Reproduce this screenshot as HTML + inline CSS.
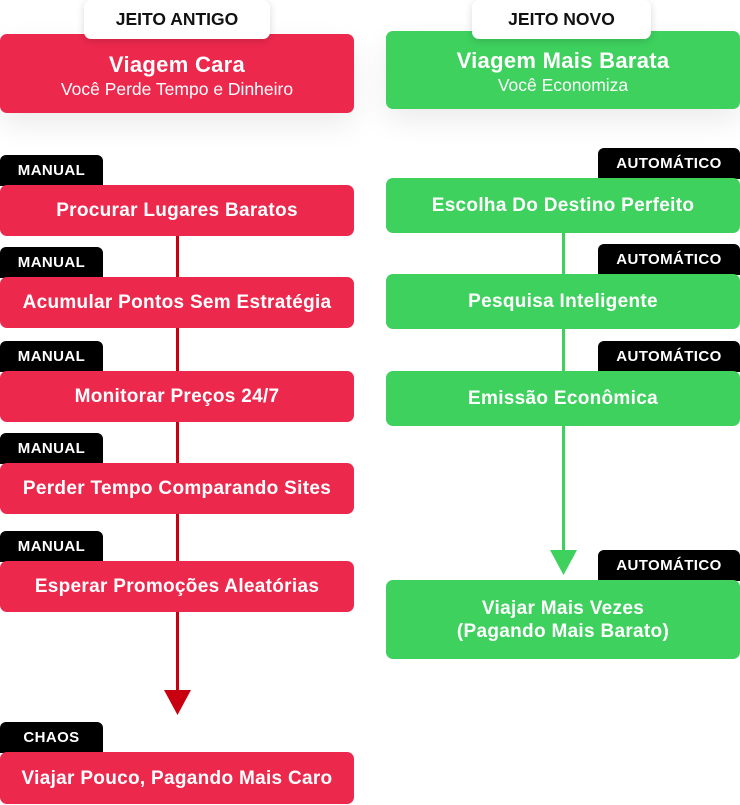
<!DOCTYPE html>
<html><head><meta charset="utf-8"><style>
*{margin:0;padding:0;box-sizing:border-box}
body{width:740px;height:805px;background:#fff;position:relative;overflow:hidden;font-family:"Liberation Sans",Arial,sans-serif}
.b{position:absolute;border-radius:7px;color:#fff;font-weight:bold;font-size:19px;display:flex;flex-direction:column;align-items:center;justify-content:center;text-align:center;letter-spacing:0.3px;line-height:23px;white-space:nowrap}
.r{background:#EC284D;left:0;width:354px}
.g{background:#3ED15E;left:386px;width:354px}
.t{position:absolute;background:#000;color:#fff;font-weight:bold;font-size:15px;letter-spacing:0.4px;height:31px;line-height:31px;border-radius:6px 6px 0 0;text-align:center}
.m{left:0;width:103px}
.a{left:598px;width:142px}
.h{position:absolute;top:0;height:39px;background:#fff;border-radius:7px;box-shadow:0 2px 8px rgba(0,0,0,.15);font-weight:bold;font-size:17.5px;line-height:39px;text-align:center;color:#111;z-index:2}
.sub{font-weight:normal;font-size:17.5px;line-height:22px;letter-spacing:0}
.hd{box-shadow:0 12px 30px rgba(0,0,0,.08)}
</style></head><body>
<div class="h" style="left:84px;width:186px">JEITO ANTIGO</div>
<div class="h" style="left:472px;width:179px">JEITO NOVO</div>
<div class="b r hd" style="top:34px;height:79px;padding-top:4px"><div style="font-size:22px;line-height:27px">Viagem Cara</div><div class="sub">Você Perde Tempo e Dinheiro</div></div>
<div class="b g hd" style="top:31px;height:78px;padding-top:2px"><div style="font-size:22px;line-height:27px">Viagem Mais Barata</div><div class="sub">Você Economiza</div></div>

<div style="position:absolute;left:176px;top:236px;width:3px;height:456px;background:#C8000F"></div>
<svg style="position:absolute;left:164px;top:690px" width="27" height="25"><polygon points="0,0 27,0 13.5,25" fill="#C8000F"/></svg>
<div style="position:absolute;left:562px;top:233px;width:3px;height:320px;background:#3ED15E"></div>
<svg style="position:absolute;left:550px;top:550px" width="27" height="25"><polygon points="0,0 27,0 13.5,25" fill="#3ED15E"/></svg>

<div class="t m" style="top:155px">MANUAL</div>
<div class="b r" style="top:185px;height:51px">Procurar Lugares Baratos</div>
<div class="t m" style="top:247px">MANUAL</div>
<div class="b r" style="top:277px;height:51px">Acumular Pontos Sem Estratégia</div>
<div class="t m" style="top:341px">MANUAL</div>
<div class="b r" style="top:371px;height:51px">Monitorar Preços 24/7</div>
<div class="t m" style="top:433px">MANUAL</div>
<div class="b r" style="top:463px;height:51px">Perder Tempo Comparando Sites</div>
<div class="t m" style="top:531px">MANUAL</div>
<div class="b r" style="top:561px;height:51px">Esperar Promoções Aleatórias</div>
<div class="t m" style="top:722px">CHAOS</div>
<div class="b r" style="top:752px;height:52px">Viajar Pouco, Pagando Mais Caro</div>

<div class="t a" style="top:148px">AUTOMÁTICO</div>
<div class="b g" style="top:178px;height:55px">Escolha Do Destino Perfeito</div>
<div class="t a" style="top:244px">AUTOMÁTICO</div>
<div class="b g" style="top:274px;height:55px">Pesquisa Inteligente</div>
<div class="t a" style="top:341px">AUTOMÁTICO</div>
<div class="b g" style="top:371px;height:55px">Emissão Econômica</div>
<div class="t a" style="top:550px">AUTOMÁTICO</div>
<div class="b g" style="top:580px;height:79px">Viajar Mais Vezes<br>(Pagando Mais Barato)</div>
</body></html>
